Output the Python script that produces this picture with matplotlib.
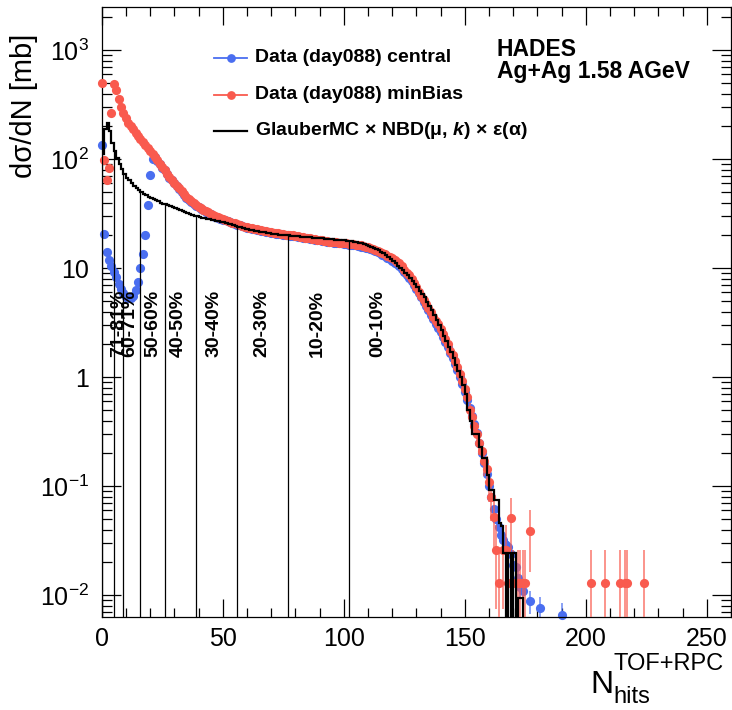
import numpy as np
import matplotlib
matplotlib.use("Agg")
from matplotlib import pyplot as plt
from matplotlib.ticker import FixedLocator, FixedFormatter, LogLocator, MultipleLocator, NullFormatter

plt.rcParams["font.family"] = ["Liberation Sans", "DejaVu Sans"]
plt.rcParams["mathtext.fontset"] = "custom"
plt.rcParams["mathtext.rm"] = "Liberation Sans"
plt.rcParams["mathtext.it"] = "Liberation Sans:italic:bold"
plt.rcParams["mathtext.bf"] = "Liberation Sans:bold"

# minBias data, one value per N_hits bin starting at 0
red_main = [500, 98, 65, 83, 265, 490, 432, 360, 305, 268,
            240, 214, 200, 188, 176, 165, 155, 144, 136, 128,
            120, 112, 106, 98, 91, 85, 80, 74, 69, 65,
            61, 57, 54, 51, 48, 45, 43, 41, 39.5, 38,
            36.5, 35.4, 34.5, 33.8, 32.6, 31.6, 30.8, 30, 29.3, 28.7,
            28.2, 27.7, 27.3, 26.8, 26.3, 25.8, 25.4, 25, 24.5, 24.1,
            23.8, 23.5, 23.2, 23, 22.8, 22.5, 22.3, 22, 21.8, 21.6,
            21.4, 21.2, 21, 20.9, 20.7, 20.5, 20.4, 20.2, 20.1, 20,
            19.8, 19.6, 19.5, 19.3, 19.1, 19, 18.9, 18.7, 18.5, 18.3,
            18.2, 18, 17.9, 17.8, 17.6, 17.5, 17.4, 17.3, 17.2, 17.1,
            17, 16.9, 16.8, 16.7, 16.6, 16.5, 16.4, 16.2, 16, 15.8,
            15.6, 15.3, 15, 14.7, 14.4, 14.1, 13.8, 13.4, 13, 12.7,
            12.3, 11.9, 11.5, 11.1, 10.4, 9.7, 9.1, 8.6, 8, 7.3,
            6.7, 6.1, 5.6, 5.1, 4.7, 4.3, 3.95, 3.6, 3.3, 3.05,
            2.8, 2.5, 2.25, 2, 1.75, 1.6, 1.42, 1.25, 1.08, 0.93,
            0.78, 0.66, 0.5, 0.43, 0.36, 0.3, 0.25, 0.21, 0.17, 0.145,
            0.11]
red_tail_x = [161, 162, 163, 164, 166, 167, 168, 169, 170, 172, 173, 174, 175, 177,
              202, 208, 214, 216, 217, 224]
red_tail_y = [0.08, 0.052, 0.0258, 0.0129, 0.0258, 0.0258, 0.0129, 0.0516, 0.0129, 0.0129,
              0.0129, 0.0129, 0.0129, 0.0387, 0.0129, 0.0129, 0.0129, 0.0129, 0.0129, 0.0129]
red_unit = 0.0129  # one count

# central trigger data
blue_main = [135, 20.5, 14, 12, 10.5, 9.3, 8.3, 7.2, 6.4, 5.9,
             5.5, 5.3, 5.3, 5.6, 6.3, 7.5, 10, 13.5, 20, 38,
             72, 100, 105, 97, 90, 84, 79, 73, 68, 64,
             60, 56.5, 53.5, 50.5, 47.5, 44.5, 42.5, 40.5, 39, 37.6,
             36.2, 35, 34, 33, 32, 31.2, 30.5, 29.8, 29.1, 28.5,
             28, 27.5, 27, 26.5, 26, 25.6, 25.2, 24.8, 24.3, 23.9,
             23.6, 23.3, 23, 22.8, 22.6, 22.3, 22.1, 21.8, 21.6, 21.4,
             21.2, 21, 20.8, 20.7, 20.5, 20.3, 20.2, 20, 19.9, 19.8,
             19.6, 19.4, 19.3, 19.1, 18.9, 18.8, 18.6, 18.4, 18.3, 18.1,
             18, 17.8, 17.7, 17.6, 17.4, 17.3, 17.2, 17.1, 17, 16.9,
             16.7, 16.6, 16.5, 16.4, 16.3, 16.2, 16, 15.8, 15.6, 15.4,
             15.2, 14.9, 14.6, 14.3, 14, 13.7, 13.3, 12.9, 12.5, 12.1,
             11.7, 11.3, 10.9, 10.5, 9.9, 9.3, 8.7, 8.2, 7.6, 7,
             6.4, 5.9, 5.4, 4.9, 4.5, 4.1, 3.75, 3.4, 3.1, 2.85,
             2.6, 2.35, 2.1, 1.88, 1.66, 1.5, 1.33, 1.17, 1.01, 0.87,
             0.74, 0.62, 0.52, 0.44, 0.37, 0.31, 0.25, 0.2, 0.165, 0.13,
             0.1, 0.079, 0.062, 0.05, 0.042, 0.036, 0.032, 0.029, 0.028, 0.024,
             0.019, 0.018, 0.0145, 0.012, 0.011]
blue_tail_x = [177, 181, 190]
blue_tail_y = [0.0088, 0.0076, 0.0066]
blue_unit = 0.0005

# GlauberMC x NBD fit, histogram with unit bins from 0
mc_vals = [113, 190, 214, 180, 140, 118, 102, 90, 81, 74,
           68, 64, 60, 57, 54.5, 52, 50, 48.3, 46.7, 45.2,
           44, 43, 42, 41, 40, 39.2, 38.5, 37.7, 37, 36.3,
           35.6, 35, 34.3, 33.6, 33, 32.3, 31.6, 31, 30.4, 30,
           29.6, 29.2, 28.9, 28.6, 28.3, 28, 27.6, 27.3, 27, 26.8,
           26.5, 26.2, 25.7, 25.3, 24.9, 24.4, 24.1, 23.8, 23.4, 23.1,
           22.9, 22.6, 22.4, 22.2, 21.9, 21.7, 21.5, 21.3, 21.1, 20.9,
           20.8, 20.6, 20.5, 20.4, 20.3, 20.2, 20.1, 20, 19.9, 19.8,
           19.7, 19.6, 19.5, 19.4, 19.3, 19.3, 19.2, 19.1, 19, 19,
           18.9, 18.8, 18.7, 18.6, 18.5, 18.4, 18.3, 18.2, 18.1, 18,
           18, 17.9, 17.8, 17.7, 17.6, 17.4, 17.2, 17, 16.7, 16.4,
           16.1, 15.8, 15.5, 15.1, 14.7, 14.2, 13.7, 13.2, 12.6, 12.1,
           11.6, 11.1, 10.6, 10.1, 9.6, 9.1, 8.6, 8.1, 7.7, 7.2,
           6.7, 6.2, 5.8, 5.4, 4.9, 4.5, 4.1, 3.7, 3.35, 3,
           2.7, 2.4, 2.15, 1.9, 1.7, 1.5, 1.3, 1.15, 1, 0.85,
           0.7, 0.5, 0.4, 0.3, 0.3, 0.3, 0.23, 0.18, 0.18, 0.127,
           0.093, 0.093, 0.075, 0.075, 0.046, 0.043, 0.0245, 0, 0.0245, 0,
           0.0245, 0, 0.0095, 0.0095, 0]

# centrality class borders and labels
cuts = [5, 9, 16, 26, 39, 56, 77, 102]
class_labels = ["71-81%", "60-71%", "50-60%", "40-50%", "30-40%", "20-30%", "10-20%", "00-10%"]
label_x = [6.8, 11.7, 21, 31.5, 46.5, 66.2, 89, 114]

ytick_vals = [1e-2, 1e-1, 1, 10, 1e2, 1e3]
ytick_labels = [r"$10^{-2}$", r"$10^{-1}$", "1", "10", r"$10^{2}$", r"$10^{3}$"]

c_red = "#f95a4e"
c_blue = "#4a6ef0"
ymin, ymax = 0.00628, 2480

fig = plt.figure(figsize=(7.32, 7.10), dpi=100)
ax = fig.add_axes([101.7 / 732, 1 - 617.3 / 710, 629.3 / 732, 610 / 710])
ax.set_yscale("log")


def draw_points(x, y, unit, color, z):
    x = np.asarray(x, float)
    y = np.asarray(y, float)
    err = np.sqrt(y * unit)
    lo = np.maximum(y - err, 1e-6)
    ax.vlines(x, lo, y + err, colors=color, lw=1.3, alpha=0.7, zorder=z)
    ax.plot(x, y, "o", ms=6.6, color=color, mec="none", clip_on=False, zorder=z)


blue_x = list(range(len(blue_main))) + blue_tail_x
blue_y = blue_main + blue_tail_y
red_x = list(range(len(red_main))) + red_tail_x
red_y = red_main + red_tail_y
draw_points(blue_x, blue_y, blue_unit, c_blue, 2)
draw_points(red_x, red_y, red_unit, c_red, 3)

mc = np.maximum(np.array(mc_vals, float), 1e-6)
ax.stairs(mc, np.arange(len(mc) + 1), color="black", lw=1.6, zorder=4)

for c in cuts:
    ax.vlines(c, ymin, mc[c], colors="black", lw=0.9, zorder=4)
for xl, lab in zip(label_x, class_labels):
    ax.text(xl, 1.54, lab, rotation=90, ha="center", va="bottom",
            fontsize=14, fontweight="bold", zorder=5)

ax.set_xlim(0, 260)
ax.set_ylim(ymin, ymax)
ax.xaxis.set_major_locator(MultipleLocator(50))
ax.xaxis.set_minor_locator(MultipleLocator(10))
ax.yaxis.set_major_locator(FixedLocator(ytick_vals))
ax.yaxis.set_major_formatter(FixedFormatter(ytick_labels))
ax.yaxis.set_minor_locator(LogLocator(base=10, subs=np.arange(2, 10)))
ax.yaxis.set_minor_formatter(NullFormatter())
ax.tick_params(which="both", direction="in", top=True, right=True, labelsize=18, width=0.9)
ax.tick_params(axis="x", which="major", length=13, pad=7)
ax.tick_params(axis="x", which="minor", length=6.5)
ax.tick_params(axis="y", which="major", length=14, pad=9)
ax.tick_params(axis="y", which="minor", length=7)
for sp in ax.spines.values():
    sp.set_linewidth(0.9)

# legend drawn by hand, ROOT style
rows = [0.917, 0.857, 0.798]
ax.plot([0.178, 0.231], [rows[0]] * 2, color=c_blue, lw=1.3, transform=ax.transAxes)
ax.plot([0.205], [rows[0]], "o", ms=6.3, color=c_blue, mec="none", transform=ax.transAxes)
ax.plot([0.178, 0.231], [rows[1]] * 2, color=c_red, lw=1.3, transform=ax.transAxes)
ax.plot([0.205], [rows[1]], "o", ms=6.3, color=c_red, mec="none", transform=ax.transAxes)
ax.plot([0.178, 0.231], [rows[2]] * 2, color="black", lw=1.6, transform=ax.transAxes)
leg_texts = ["Data (day088) central", "Data (day088) minBias",
             "GlauberMC × NBD(μ, $k$) × ε(α)"]
for r, t in zip(rows, leg_texts):
    ax.text(0.244, r, t, transform=ax.transAxes, fontsize=14, fontweight="bold", va="center")

ax.text(0.628, 0.949, "HADES\nAg+Ag 1.58 AGeV", transform=ax.transAxes, fontsize=16.5,
        fontweight="bold", va="top", linespacing=0.92)

fig.text(24 / 732, 1 - 106 / 710, "dσ/dN [mb]", rotation=90, ha="center", va="center", fontsize=21)
fig.text(590 / 732, 1 - 693 / 710, "N", fontsize=23, va="baseline")
fig.text(613 / 732, 1 - 670 / 710, "TOF+RPC", fontsize=17, va="baseline")
fig.text(613 / 732, 1 - 703 / 710, "hits", fontsize=17, va="baseline")

plt.savefig("out.png", dpi=100)
